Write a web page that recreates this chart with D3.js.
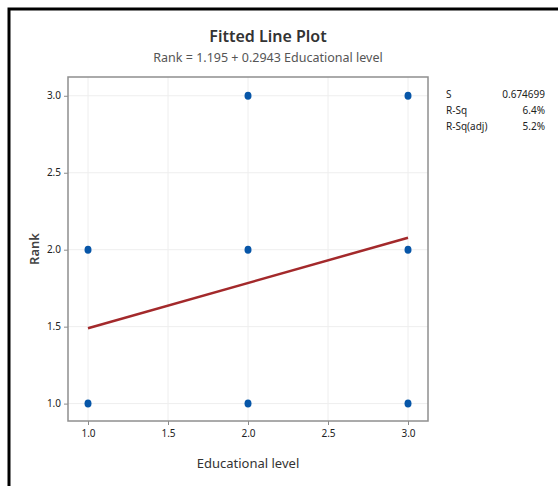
<!DOCTYPE html>
<html>
<head>
<meta charset="utf-8">
<script src="https://cdnjs.cloudflare.com/ajax/libs/d3/7.8.5/d3.min.js"></script>
<style>
  body { margin: 0; background: #fff; }
  svg text { font-family: "Noto Sans", "Open Sans", sans-serif; }
</style>
</head>
<body>
<svg id="chart" width="558" height="486"></svg>
<script>
var eduLevel = [1, 1, 2, 2, 2, 3, 3, 3];
var rankVals = [1, 2, 1, 2, 3, 1, 2, 3];
var fitCoef = {b0: 1.195, b1: 0.2943};
var xTicks = [1.0, 1.5, 2.0, 2.5, 3.0];
var yTicks = [1.0, 1.5, 2.0, 2.5, 3.0];
var statLabels = ["S", "R-Sq", "R-Sq(adj)"];
var statValues = ["0.674699", "6.4%", "5.2%"];

var svg = d3.select("#chart");
var plot = {left: 68, top: 77, right: 428, bottom: 421};

// outer frame (only top/left visible in the window)
svg.append("rect").attr("x", 9).attr("y", 9).attr("width", 600).attr("height", 600)
  .attr("fill", "none").attr("stroke", "#000").attr("stroke-width", 3);

var x = d3.scaleLinear().domain([0.875, 3.125]).range([plot.left, plot.right]);
var y = d3.scaleLinear().domain([0.887, 3.122]).range([plot.bottom, plot.top]);

// grid
var grid = svg.append("g");
grid.selectAll(".gx").data(xTicks).enter().append("line")
  .attr("x1", d => x(d)).attr("x2", d => x(d)).attr("y1", plot.top).attr("y2", plot.bottom)
  .attr("stroke", "#eeeeee").attr("stroke-width", 1);
grid.selectAll(".gy").data(yTicks).enter().append("line")
  .attr("y1", d => y(d)).attr("y2", d => y(d)).attr("x1", plot.left).attr("x2", plot.right)
  .attr("stroke", "#eeeeee").attr("stroke-width", 1);

// axes
var xAxis = svg.append("g").attr("transform", "translate(0," + plot.bottom + ")")
  .call(d3.axisBottom(x).tickValues(xTicks).tickFormat(d3.format(".1f")).tickSize(4).tickPadding(5));
var yAxis = svg.append("g").attr("transform", "translate(" + plot.left + ",0)")
  .call(d3.axisLeft(y).tickValues(yTicks).tickFormat(d3.format(".1f")).tickSize(4).tickPadding(3));
[xAxis, yAxis].forEach(function(a) {
  a.select(".domain").remove();
  a.selectAll(".tick line").attr("stroke", "#8a8a8a");
  a.selectAll(".tick text").attr("font-size", 10).attr("fill", "#222")
    .style("font-family", "'Noto Sans', sans-serif");
});

// plot frame
svg.append("rect").attr("x", plot.left).attr("y", plot.top)
  .attr("width", plot.right - plot.left).attr("height", plot.bottom - plot.top)
  .attr("fill", "none").attr("stroke", "#8f8f8f").attr("stroke-width", 1.5);

// fitted line
var xr = d3.extent(eduLevel);
svg.append("line")
  .attr("x1", x(xr[0])).attr("y1", y(fitCoef.b0 + fitCoef.b1 * xr[0]))
  .attr("x2", x(xr[1])).attr("y2", y(fitCoef.b0 + fitCoef.b1 * xr[1]))
  .attr("stroke", "#a3292b").attr("stroke-width", 2.5);

// points
svg.selectAll(".pt").data(eduLevel).enter().append("ellipse")
  .attr("cx", (d, i) => x(d)).attr("cy", (d, i) => y(rankVals[i]))
  .attr("rx", 3.5).attr("ry", 4).attr("fill", "#0756a8");

// titles
svg.append("text").attr("x", 268).attr("y", 42).attr("text-anchor", "middle")
  .attr("font-size", 16).attr("font-weight", 600).attr("fill", "#333").text("Fitted Line Plot");
svg.append("text").attr("x", 268).attr("y", 62).attr("text-anchor", "middle")
  .attr("font-size", 12.5).attr("fill", "#555").text("Rank = 1.195 + 0.2943 Educational level");
svg.append("text").attr("x", 248).attr("y", 468).attr("text-anchor", "middle")
  .attr("font-size", 13).attr("fill", "#333").text("Educational level");
svg.append("text").attr("transform", "translate(39,249) rotate(-90)").attr("text-anchor", "middle")
  .attr("font-size", 13).attr("font-weight", 600).attr("fill", "#444").text("Rank");

// stats table
var stats = svg.append("g");
statLabels.forEach(function(s, i) {
  stats.append("text").attr("x", 446).attr("y", 98 + i * 16).attr("font-size", 10)
    .attr("fill", "#222").text(s);
  stats.append("text").attr("x", 545).attr("y", 98 + i * 16).attr("font-size", 10)
    .attr("text-anchor", "end").attr("fill", "#222").text(statValues[i]);
});
</script>
</body>
</html>
